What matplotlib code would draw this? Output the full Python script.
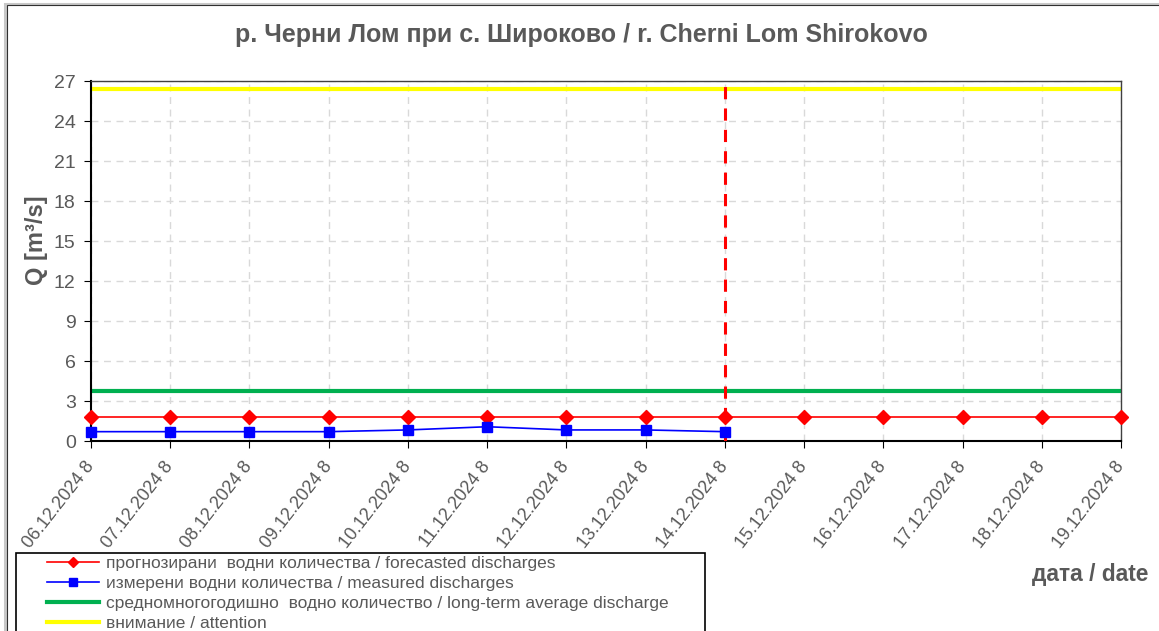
import matplotlib
matplotlib.use("Agg")
import matplotlib.pyplot as plt
from matplotlib.patches import Rectangle

dates = ["06.12.2024 8", "07.12.2024 8", "08.12.2024 8", "09.12.2024 8", "10.12.2024 8",
         "11.12.2024 8", "12.12.2024 8", "13.12.2024 8", "14.12.2024 8", "15.12.2024 8",
         "16.12.2024 8", "17.12.2024 8", "18.12.2024 8", "19.12.2024 8"]
forecast = [1.78] * 14
measured = [0.70, 0.70, 0.70, 0.70, 0.83, 1.07, 0.83, 0.83, 0.70]
long_term_avg = 3.73
attention = 26.4
today_index = 8
yticks = [0, 3, 6, 9, 12, 15, 18, 21, 24, 27]

title = "р. Черни Лом при с. Широково / r. Cherni Lom Shirokovo"
ylabel = "Q [m³/s]"
xlabel = "дата / date"
labels = ["прогнозирани  водни количества / forecasted discharges",
          "измерени водни количества / measured discharges",
          "средномногогодишно  водно количество / long-term average discharge",
          "внимание / attention"]

plt.rcParams['font.family'] = ['Liberation Sans', 'DejaVu Sans']
gray = "#595959"
W, H = 1159, 631

fig = plt.figure(figsize=(W / 100, H / 100), dpi=100)
ax = fig.add_axes([91 / W, 1 - 441 / H, (1121 - 91) / W, 360 / H])

x = list(range(len(dates)))
ax.axhline(attention, color="#ffff00", lw=3, zorder=2)
ax.axhline(long_term_avg, color="#00b050", lw=3, zorder=2)
ax.plot(x, forecast, color="#ff0000", lw=1.2, marker="D", ms=7, zorder=4, clip_on=False)
ax.plot(x[:len(measured)], measured, color="#0000ff", lw=1.2, marker="s", ms=6.5, zorder=5,
        clip_on=False)
ax.axvline(today_index, color="#ff0000", lw=2.2, ls=(0, (4, 3)), zorder=3)

ax.set_xlim(0, len(dates) - 1)
ax.set_ylim(0, 27)
ax.set_yticks(yticks)
ax.set_xticks(x)
ax.set_xticklabels(dates, rotation=52, ha="right", va="center", rotation_mode="anchor",
                   fontsize=13, color=gray)
ax.tick_params(axis="y", labelsize=14, colors=gray, length=5, direction="out", pad=6)
ax.tick_params(axis="x", length=5, direction="out", pad=11)
ax.tick_params(axis="both", color="black")
ax.grid(True, color="#d9d9d9", ls=(0, (5, 4)), lw=1)
ax.set_axisbelow(True)
for s in ["left", "bottom"]:
    ax.spines[s].set_color("black")
    ax.spines[s].set_linewidth(1.5)
for s in ["top", "right"]:
    ax.spines[s].set_color("#404040")
    ax.spines[s].set_linewidth(1)

fig.text(36 / W, 1 - 240 / H, ylabel, rotation=90, ha="center", va="center",
         fontsize=17, fontweight="bold", color=gray)
fig.text(581 / W, 1 - 35 / H, title, ha="center", va="center",
         fontsize=18, fontweight="bold", color=gray)
fig.text(1090 / W, 1 - 574 / H, xlabel, ha="center", va="center",
         fontsize=16.4, fontweight="bold", color=gray)

handles = [plt.Line2D([], [], color="#ff0000", lw=1.2, marker="D", ms=5.5),
           plt.Line2D([], [], color="#0000ff", lw=1.2, marker="s", ms=6),
           plt.Line2D([], [], color="#00b050", lw=3),
           plt.Line2D([], [], color="#ffff00", lw=3)]
leg = fig.legend(handles, labels, loc="upper left",
                 bbox_to_anchor=(47 / W, 1 - 556 / H),
                 frameon=False,
                 prop={"size": 12.5},
                 handlelength=3.0, handletextpad=0.4, labelspacing=0.27,
                 borderpad=0, borderaxespad=0)
for t in leg.get_texts():
    t.set_color(gray)

fig.patches.append(Rectangle((16 / W, -0.05), (705 - 16) / W, (631 - 553) / H + 0.05,
                             transform=fig.transFigure, fill=False,
                             edgecolor="black", lw=1.2))
fig.patches.append(Rectangle((4.5 / W, -0.05), 1.2, 1.05 - 3.5 / H + 0.0,
                             transform=fig.transFigure, fill=False,
                             edgecolor="#c8c8c8", lw=2.2))
fig.patches.append(Rectangle((6.5 / W, -0.05), 1.2, 1.05 - 5.5 / H,
                             transform=fig.transFigure, fill=False,
                             edgecolor="#303030", lw=0.8))

fig.savefig("out.png", dpi=100)
